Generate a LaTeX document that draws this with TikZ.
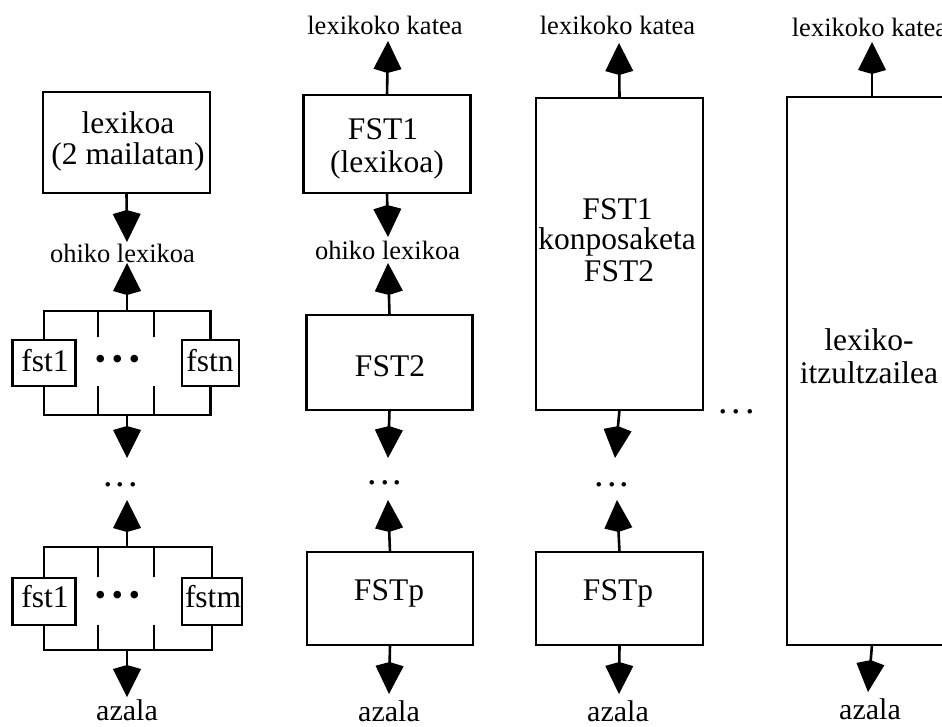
\documentclass[tikz,border=0pt]{standalone}
\usepackage{fontspec}
\setmainfont{Liberation Serif}
\usetikzlibrary{arrows.meta}
\newcommand\fmain{\fontsize{31.5}{31}\selectfont}
\newcommand\fsmall{\fontsize{26.5}{26.5}\selectfont}
\newcommand\fazala{\fontsize{30}{30}\selectfont}
\newcommand\fdots{\fontsize{38}{38}\selectfont}
\begin{document}
\begin{tikzpicture}[x=1pt,y=-1pt,
 box/.style={draw, line width=2.6pt, inner sep=0pt, outer sep=0pt},
 txt/.style={inner sep=0pt, font=\fmain, anchor=base},
 lbl/.style={inner sep=0pt, font=\fsmall, anchor=base},
 azl/.style={inner sep=0pt, font=\fazala, anchor=base},
 bul/.style={inner sep=0pt, font=\fmain},
 ell/.style={inner sep=0pt, font=\fdots, anchor=base},
 ln/.style={line width=2.6pt},
 arr/.style={line width=2.6pt, -{Kite[length=32pt,width=28pt,inset=4pt]}}]
\useasboundingbox (0,0) rectangle (942,727);
\clip (0,0) rectangle (942,727);

% ---------- column 1 ----------
\node[box, minimum width=167, minimum height=101] (lex) at (126.5,142.5) {};
\node[txt] (lexA) at (128,134) {lexikoa};
\node[txt] (lexB) at (128,165) {(2 mailatan)};
\coordinate (c1a) at (127,242);
\draw[arr] (lex.south) -- (c1a);
\node[lbl] (ohiko1) at (122.5,262) {ohiko lexikoa};

\node[box, minimum width=63, minimum height=46] (fA1) at (44,363) {};
\node[txt] (fA1t) at (45,371) {fst1};
\node[box, minimum width=57, minimum height=46] (fB1) at (210.5,363) {};
\node[txt] (fB1t) at (210,371) {fstn};
\coordinate (top1) at (127,311);
\coordinate (bot1) at (127,415);
\draw[ln] (fA1.north) |- (top1) -| (fB1.north);
\draw[ln] (fA1.south) |- (bot1) -| (fB1.south);
\draw[ln] (98,311) -- (98,337) (154,311) -- (154,337) (98,386) -- (98,415) (154,386) -- (154,415);
\node[bul] (bu1) at (117.5,362) {•\hspace{6pt}•\hspace{6pt}•};
\coordinate (c1b) at (127,263);
\draw[arr] (top1) -- (c1b);
\coordinate (c1c) at (127,458);
\draw[arr] (bot1) -- (c1c);
\node[ell] (ell1) at (120.5,486) {.\hspace{3pt}.\hspace{3pt}.};

\node[box, minimum width=63, minimum height=47] (fA2) at (44,601.5) {};
\node[txt] (fA2t) at (45,607) {fst1};
\node[box, minimum width=60, minimum height=47] (fB2) at (212,601.5) {};
\node[txt] (fB2t) at (213,607) {fstm};
\coordinate (top2) at (127,547);
\coordinate (bot2) at (127,650);
\draw[ln] (fA2.north) |- (top2) -| (fB2.north);
\draw[ln] (fA2.south) |- (bot2) -| (fB2.south);
\draw[ln] (98,547) -- (98,577) (154,547) -- (154,577) (98,625) -- (98,650) (154,625) -- (154,650);
\node[bul] (bu2) at (117.5,598) {•\hspace{6pt}•\hspace{6pt}•};
\coordinate (c1d) at (127,500);
\draw[arr] (top2) -- (c1d);
\coordinate (c1e) at (127,697);
\draw[arr] (bot2) -- (c1e);
\node[azl] (az1) at (127,720) {azala};

% ---------- column 2 ----------
\node[lbl] (kat2) at (385,35) {lexikoko katea};
\node[box, minimum width=167, minimum height=98] (b2a) at (387,144) {};
\node[txt] (b2at) at (383,140) {FST1};
\node[txt] (b2au) at (387,173) {(lexikoa)};
\coordinate (c2a) at (388,41);
\draw[arr] (b2a.north) -- (c2a);
\coordinate (c2b) at (388,237);
\draw[arr] (b2a.south) -- (c2b);
\node[lbl] (ohiko2) at (387.5,260) {ohiko lexikoa};
\node[box, minimum width=166, minimum height=95] (b2b) at (389.5,362.5) {};
\node[txt] (b2bt) at (390,376) {FST2};
\coordinate (c2c) at (388,263);
\draw[arr] (b2b.north) -- (c2c);
\coordinate (c2d) at (388,458);
\draw[arr] (b2b.south) -- (c2d);
\node[ell] (ell2) at (385,484) {.\hspace{3pt}.\hspace{3pt}.};
\node[box, minimum width=166, minimum height=93] (b2c) at (390,598.5) {};
\node[txt] (b2ct) at (389,600) {FSTp};
\coordinate (c2e) at (388,500);
\draw[arr] (b2c.north) -- (c2e);
\coordinate (c2f) at (389,694);
\draw[arr] (b2c.south) -- (c2f);
\node[azl] (az2) at (389,721) {azala};

% ---------- column 3 ----------
\node[lbl] (kat3) at (617.5,35) {lexikoko katea};
\node[box, minimum width=167, minimum height=312] (b3a) at (619.5,254) {};
\node[txt] (b3t1) at (617.5,220) {FST1};
\node[txt] (b3t2) at (617,250) {konposaketa};
\node[txt] (b3t3) at (619,282) {FST2};
\coordinate (c3a) at (619,43);
\draw[arr] (b3a.north) -- (c3a);
\coordinate (c3b) at (615,458);
\draw[arr] (b3a.south) -- (c3b);
\node[ell] (ell3) at (612,486) {.\hspace{3pt}.\hspace{3pt}.};
\node[box, minimum width=167, minimum height=93] (b3b) at (619.5,598.5) {};
\node[txt] (b3bt) at (618,600) {FSTp};
\coordinate (c3c) at (617,500);
\draw[arr] (b3b.north) -- (c3c);
\coordinate (c3d) at (619,694);
\draw[arr] (b3b.south) -- (c3d);
\node[azl] (az3) at (618,721) {azala};

\node[ell] (ell4) at (736.5,413) {.\hspace{4pt}.\hspace{4pt}.};

% ---------- column 4 ----------
\node[lbl] (kat4) at (869.5,37) {lexikoko katea};
\node[box, minimum width=170, minimum height=548] (b4) at (872,371) {};
\node[txt] (b4t1) at (869,350) {lexiko-};
\node[txt] (b4t2) at (869,383) {itzultzailea};
\coordinate (c4a) at (872,42);
\draw[arr] (b4.north) -- (c4a);
\coordinate (c4b) at (868,692);
\draw[arr] (b4.south) -- (c4b);
\node[azl] (az4) at (870,719) {azala};
\end{tikzpicture}
\end{document}
